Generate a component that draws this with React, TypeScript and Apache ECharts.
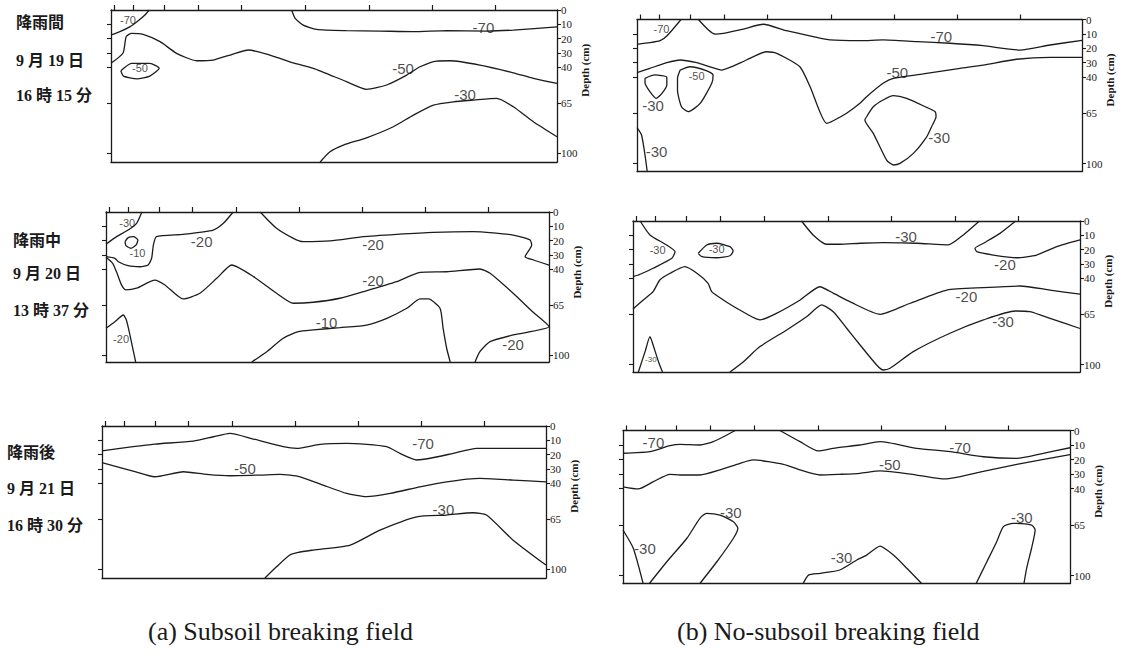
import React, { useEffect, useRef } from "react";
import * as echarts from "echarts";

// ---------- shared axis ticks ----------
const xTicks = [0.7, 5, 12, 19.5, 29.3, 43.6, 57.8, 72, 86.2];
const depthTicks = [0, 10, 20, 30, 40, 65, 100];
const leftDepthTicks = [10, 20, 30, 40, 65, 100];

// ---------- (a) 降雨間 ----------
const a1_m70L = [[0, 17.4], [2, 15.1], [4.3, 11.6], [6.1, 7.5], [7.6, 3.5], [8.6, 0]];
const a1_m50 = [[0, 37.2], [2.7, 30], [3.4, 18.6], [4.6, 16.3], [7.2, 17], [11, 22.1], [14.7, 30.2], [19.2, 35.4], [22.9, 34.9], [27.4, 30.7], [30.8, 27.9], [34.9, 30.7], [40.1, 36.1], [45.4, 40.7], [52.8, 50], [57.3, 55.3], [61.8, 52.3], [66.3, 45.4], [69.3, 39.6], [73, 35.6], [76, 35.4], [82.7, 38.4], [90.2, 43.8], [94.7, 47.7], [100, 51.2]];
const a1_m50loop = [[2.2, 42.4], [4.6, 37.2], [8.7, 37.2], [10.8, 40.7], [8.7, 46.1], [5.8, 48.1], [2.8, 46.1], [2.2, 42.4]];
const a1_m70R = [[40.5, 0], [41.3, 5.8], [43.1, 10.5], [46.1, 13.5], [52.8, 14.4], [60.3, 14.7], [67.8, 15.1], [75.3, 14.4], [84.2, 14.7], [90.2, 14], [100, 11.7]];
const a1_m30 = [[46.9, 106], [49.1, 98.9], [52.1, 94.2], [57.3, 89.1], [63.3, 81.4], [67.8, 73.3], [72.3, 66.3], [76.8, 64], [81.3, 62.8], [86.5, 61.6], [90.2, 67.5], [94.7, 77.9], [100, 88.4]];
const a1_labels = [["-70", 83.5, 11.9], ["-50", 65.5, 40.5], ["-30", 79.4, 58.6]];
const a1_smallLabels = [["-70", 3.8, 7], ["-50", 6.5, 40.3]];

// ---------- (b) 降雨間 ----------
const b1_m70L = [[0, 17.2], [2.9, 16.1], [5.2, 14.7], [6.7, 11.5], [9.9, 0]];
const b1_m70R = [[13.8, 0], [17.5, 10.1], [19.4, 9.6], [23.9, 6.6], [28.4, 3.3], [33.6, 7.8], [39.6, 11.9], [43.4, 14.2], [50.1, 14.7], [55.3, 14.2], [62.9, 15.4], [70.3, 16.5], [77.8, 18.2], [86.1, 21.2], [92.8, 17.7], [100, 14.5]];
const b1_m50 = [[0, 36.9], [2.9, 33.9], [6.7, 30], [9.7, 28.1], [13.4, 30], [16.4, 32.8], [19, 35.1], [21.6, 32.3], [24.6, 28.1], [29.1, 22.4], [31.4, 23.5], [36.6, 32.8], [38.9, 46.7], [42.6, 72.1], [44.1, 70.3], [47.1, 65.1], [50.1, 58.2], [51.6, 53.6], [55.3, 44.3], [57.6, 40.8], [64.3, 37.8], [72.6, 33.9], [77.8, 31.6], [85.3, 27.6], [92.8, 26.3], [100, 26.3]];
const b1_m30loopA = [[1.8, 40.8], [4, 38.5], [6.7, 40.1], [6.7, 45.5], [5.6, 51.3], [4.3, 54.7], [2.9, 50.1], [1.8, 43.9], [1.8, 40.8]];
const b1_m50loop = [[9.7, 35.1], [11.9, 32.8], [15.7, 35.6], [17.1, 38.5], [16.8, 44.3], [14.2, 58.2], [11.5, 64], [10, 60.6], [9.1, 49], [9.1, 40.8], [9.7, 35.1]];
const b1_m30edge = [[0, 75], [1, 80], [1.7, 92], [2.3, 105.5]];
const b1_m30loopB = [[51.6, 67.5], [53.1, 60.6], [55.3, 55.9], [57.6, 52.9], [60.6, 54.7], [65.1, 61], [67, 64], [67.2, 67.5], [66.2, 74.4], [65.1, 81.4], [62.1, 92.9], [59.1, 99.9], [57.6, 101], [56.1, 97.6], [53.1, 79], [51.2, 69.8], [51.6, 67.5]];
const b1_labels = [["-70", 68.4, 11.5], ["-50", 58.5, 36.5], ["-30", 67.9, 81.9], ["-30", 3.6, 59.4], ["-30", 4.4, 91.7]];
const b1_smallLabels = [["-70", 5.5, 6.8], ["-50", 13.4, 39.2]];

// ---------- (a) 降雨中 ----------
const a2_m30 = [[0, 22.5], [2.4, 17.2], [5, 12.6], [6.9, 7.9], [8.1, 0]];
const a2_m20a = [[0, 31.2], [2, 32.3], [2.8, 34.7], [5, 37.5], [7.7, 38.2], [9.5, 37], [10.3, 32.3], [10.7, 23], [11.4, 17.2], [17.4, 15.6], [24.2, 12.6], [26.5, 7.9], [28.7, 0]];
const a2_m10loop = [[4.3, 20.7], [5, 17.9], [6.2, 17.2], [7.2, 19.5], [6.8, 23], [5.6, 25.3], [4.5, 23.5], [4.3, 20.7]];
const a2_m20b = [[34.8, 0], [38.5, 11.4], [42.3, 18.4], [44.5, 20.7], [50.6, 20.2], [58.1, 17.2], [65.6, 15.6], [73.9, 14.2], [82.9, 13.7], [91.9, 16.1], [95.7, 19.5], [96.1, 23], [94.6, 31.2], [96.5, 33.5], [100, 37]];
const a2_m20c = [[0, 31.6], [1.5, 35.8], [2.5, 42.8], [3.5, 50.9], [4.5, 54.4], [6.9, 53.2], [11, 47.5], [13.3, 50.9], [17.4, 60.7], [21.2, 56.7], [25, 46.3], [28.4, 37], [33.3, 45.1], [38.5, 56.7], [42.3, 63.7], [46.8, 63], [52.8, 60.2], [58.1, 55.6], [65.6, 48.6], [70.9, 42.1], [76.9, 41.7], [84.4, 39.8], [86.7, 42.8], [91.9, 56.7], [96.3, 69.6], [100, 80], [91.9, 85.8], [86.7, 90.5], [84.4, 97.5], [83.3, 104.7]];
const a2_m10 = [[32.9, 104.7], [36.3, 97.5], [40, 88.1], [43.4, 83.5], [46.8, 82.3], [52.8, 80.7], [58.8, 78.9], [63.4, 74.2], [67.9, 67.2], [70.9, 60.7], [72.8, 60.7], [75.4, 67.2], [76.1, 81.2], [76.9, 95.1], [77.7, 104.7]];
const a2_m20d = [[0, 81.2], [2, 76.6], [3.9, 71.9], [4.6, 75.4], [5.4, 85.8], [6.2, 97.5], [6.7, 104.7]];
const a2_labels = [["-20", 21.6, 20.7], ["-20", 60.3, 23], ["-20", 60.3, 47.5], ["-10", 49.8, 76.8], ["-20", 91.9, 92.8]];
const a2_smallLabels = [["-30", 4.8, 7.7], ["-10", 7.1, 28.6], ["-20", 3.4, 88.6]];

// ---------- (b) 降雨中 ----------
const b2_m30a = [[1.6, 0], [3.8, 9.7], [7.5, 16.7], [9.4, 21.4], [8.7, 26], [4.5, 32.9], [1.6, 37.1], [0, 38.8]];
const b2_m30loop = [[14.6, 22.5], [16.5, 16.7], [18.7, 15.5], [21.7, 17.9], [22.4, 20.9], [21.7, 24.2], [18.7, 25.6], [15.4, 24.9], [14.6, 22.5]];
const b2_m30b = [[37.7, 0], [40.3, 9.7], [43.3, 16.2], [46.3, 16.2], [50.8, 15.5], [56, 15.1], [63.5, 15.5], [70.5, 16.7], [73.9, 9.7], [77.5, 0]];
const b2_m20a = [[85.6, 0], [82.1, 8.6], [78.4, 15.5], [76.5, 19], [76.9, 21.4], [80.6, 23.7], [85.8, 25.6], [90.3, 23.7], [94.8, 17.9], [100, 13.2]];
const b2_m20b = [[0, 61.3], [2.3, 55], [4.5, 49.2], [6, 41.1], [8.3, 36.4], [11.6, 31.8], [14.3, 36.4], [16.8, 43.4], [17.6, 49.2], [20.2, 55], [23.9, 62], [28.4, 68.9], [32.1, 64.3], [37.4, 55], [41.8, 45.8], [44.8, 50.3], [48.5, 56.2], [55.3, 65], [62, 57.3], [70.2, 48.1], [78.4, 46.4], [86.6, 45.3], [93.3, 48.1], [100, 51]];
const b2_m30c = [[21.7, 105.2], [24.7, 98], [28.4, 87.5], [34.4, 75.9], [38.9, 66.6], [42.2, 58.5], [44.8, 63.2], [47.8, 74.7], [50.8, 86.4], [54.5, 100.3], [56, 103.8], [57.5, 102.6], [62.7, 91], [70.9, 78.2], [78.4, 68.9], [85.5, 62.7], [88.8, 63.2], [93.3, 67.8], [100, 74.9]];
const b2_m30d = [[1.2, 105.2], [2.7, 91], [3.8, 80.6], [4.5, 86.4], [5.7, 98], [6.6, 105.2]];
const b2_labels = [["-30", 61.1, 11.1], ["-20", 83.2, 30.6], ["-20", 74.6, 52.9], ["-30", 82.8, 70]];
const b2_smallLabels = [["-30", 5.5, 20.2], ["-30", 18.7, 19.5]];
const b2_tinyLabels = [["-30", 4, 96.4]];

// ---------- (a) 降雨後 ----------
const a3_m70 = [[0, 17.4], [7, 14.4], [11.9, 12.6], [20.6, 10.5], [25.1, 7.5], [28.8, 5.1], [34.1, 9.1], [40.8, 14.4], [43.9, 15.6], [49.1, 12.8], [55.1, 12.1], [64.1, 14.4], [67.1, 19.1], [70.9, 23.7], [73.9, 22.5], [79.1, 19.1], [84.4, 15.6], [92.6, 15.6], [100, 15.6]];
const a3_m50 = [[0, 25.6], [7, 31.4], [11.9, 35.4], [18.3, 31.9], [23.6, 33.7], [28.8, 34.7], [35.6, 34.2], [40.1, 33.7], [44.6, 35.4], [49.8, 41.2], [55.1, 47], [59.6, 49.3], [64.9, 47], [71.6, 42.4], [77.6, 38.9], [85.1, 36.5], [92.6, 37.7], [100, 38.9]];
const a3_m30 = [[36.7, 106], [39.3, 98.2], [42.3, 90], [44.2, 88.1], [47.6, 86.5], [55.9, 83], [62.6, 72.6], [70.9, 63.3], [77.6, 62.1], [83.6, 60.5], [86.6, 62.1], [92.6, 79.6], [100, 97]];
const a3_labels = [["-70", 72.3, 11.9], ["-50", 32.2, 29.7], ["-30", 76.9, 58.3]];

// ---------- (b) 降雨後 ----------
const b3_m70a = [[0, 15.7], [6, 14.6], [10.5, 10.5], [12.8, 9.5], [17.2, 10], [20.2, 7.7], [25.1, 0]];
const b3_m70b = [[35.1, 0], [39.6, 7.7], [43.7, 14.1], [47, 12.3], [53, 10], [57.5, 7.7], [65.7, 12.3], [73.2, 14.6], [80.6, 18.1], [88.1, 19.2], [94, 15.7], [100, 11.9]];
const b3_m50 = [[0, 38.8], [3.4, 40.3], [6.8, 35.3], [10.5, 30.2], [12.8, 30.7], [17.2, 30.7], [21.7, 27.2], [26.2, 22.6], [29.1, 20.3], [35.9, 23.3], [39.6, 27.2], [44.1, 30.7], [48.5, 30.2], [53, 29.5], [57.5, 27.9], [65.7, 30.7], [72, 33.4], [80.6, 28.2], [88.1, 23.4], [100, 16.6]];
const b3_m30edge = [[0, 68.6], [2.3, 81.2], [4.5, 105.5]];
const b3_m30loopA = [[5.9, 105.5], [9.8, 90.5], [14.3, 74.3], [17.2, 60.6], [18.7, 57.1], [21.7, 58.3], [24.7, 62.9], [25.7, 67.4], [24.7, 74.3], [21, 90.5], [17.2, 105.5]];
const b3_m30hump = [[40.3, 105.5], [41.5, 99.7], [44.1, 98.5], [48.5, 96.2], [52.3, 89.3], [54.5, 85.9], [57.5, 79.7], [60.5, 85.9], [63.5, 95], [66.8, 105.5]];
const b3_m30loopB = [[79, 105.5], [81.4, 90.5], [83.6, 76.7], [85.1, 66.3], [87.3, 64], [91.4, 65.2], [92.2, 68.6], [91.4, 81.2], [90.3, 95], [89.7, 105.5]];
const b3_labels = [["-70", 6.8, 8.3], ["-70", 75.4, 11.4], ["-50", 59.7, 23.4], ["-30", 4.9, 81.4], ["-30", 24.1, 56.4], ["-30", 48.9, 87.9], ["-30", 89.2, 59.7]];

// ---------- side texts ----------
const rowTexts = [
  ["降雨間", "9 月 19 日", "16 時 15 分"],
  ["降雨中", "9 月 20 日", "13 時 37 分"],
  ["降雨後", "9 月 21 日", "16 時 30 分"],
];
const captions = ["(a) Subsoil breaking field", "(b) No-subsoil breaking field"];

// ---------- layout ----------
const panels = [
  { left: 111, top: 10, width: 446, height: 152, ymax: 106, lines: [a1_m70L, a1_m50, a1_m50loop, a1_m70R, a1_m30], labels: a1_labels, small: a1_smallLabels, tiny: [] },
  { left: 637, top: 19.5, width: 445, height: 152, ymax: 105.5, lines: [b1_m70L, b1_m70R, b1_m50, b1_m30loopA, b1_m50loop, b1_m30edge, b1_m30loopB], labels: b1_labels, small: b1_smallLabels, tiny: [] },
  { left: 106, top: 212, width: 443, height: 150, ymax: 104.7, lines: [a2_m30, a2_m20a, a2_m10loop, a2_m20b, a2_m20c, a2_m10, a2_m20d], labels: a2_labels, small: a2_smallLabels, tiny: [] },
  { left: 633, top: 221, width: 447, height: 151, ymax: 105.2, lines: [b2_m30a, b2_m30loop, b2_m30b, b2_m20a, b2_m20b, b2_m30c, b2_m30d], labels: b2_labels, small: b2_smallLabels, tiny: b2_tinyLabels },
  { left: 102, top: 426, width: 444, height: 152, ymax: 106, lines: [a3_m70, a3_m50, a3_m30], labels: a3_labels, small: [], tiny: [] },
  { left: 623, top: 430.5, width: 447, height: 153, ymax: 105.5, lines: [b3_m70a, b3_m70b, b3_m50, b3_m30edge, b3_m30loopA, b3_m30hump, b3_m30loopB], labels: b3_labels, small: [], tiny: [] },
];
const rowTextLayout = [
  { x: 16, ys: [22.5, 60, 95.5] },
  { x: 13, ys: [240, 273.5, 310] },
  { x: 7, ys: [452.5, 488.5, 525] },
];

const INK = "#1a1a1a";
const SERIF = "'Liberation Serif', 'DejaVu Serif', serif";
const CJK = "'Liberation Serif', 'Noto Sans CJK JP', serif";
const SANS = "'Liberation Sans', Arial, sans-serif";

function buildOption() {
  const grid: any[] = [];
  const xAxis: any[] = [];
  const yAxis: any[] = [];
  const series: any[] = [];
  const graphic: any[] = [];
  const axisLine = { show: true, onZero: false, lineStyle: { color: INK, width: 1.3 } };

  panels.forEach((p, i) => {
    grid.push({ left: p.left, top: p.top, width: p.width, height: p.height });
    xAxis.push({
      type: "value", gridIndex: i, position: "top", min: 0, max: 100,
      axisLine, axisTick: { show: true, length: 5, customValues: xTicks, lineStyle: { color: INK, width: 1.2 } },
      axisLabel: { show: false }, splitLine: { show: false },
    });
    xAxis.push({
      type: "value", gridIndex: i, position: "bottom", min: 0, max: 100,
      axisLine, axisTick: { show: false }, axisLabel: { show: false }, splitLine: { show: false },
    });
    yAxis.push({
      type: "value", gridIndex: i, position: "right", inverse: true, min: 0, max: p.ymax,
      axisLine, axisTick: { show: true, length: 4, customValues: depthTicks, lineStyle: { color: INK, width: 1.1 } },
      axisLabel: { show: true, customValues: depthTicks, margin: 4, fontSize: 11, fontFamily: SERIF, color: INK },
      splitLine: { show: false },
    });
    yAxis.push({
      type: "value", gridIndex: i, position: "left", inverse: true, min: 0, max: p.ymax,
      axisLine, axisTick: { show: true, length: 4, customValues: leftDepthTicks, lineStyle: { color: INK, width: 1.1 } },
      axisLabel: { show: false }, splitLine: { show: false },
    });
    p.lines.forEach((ln) => {
      series.push({
        type: "line", xAxisIndex: 2 * i, yAxisIndex: 2 * i, data: ln, symbol: "none", showSymbol: false,
        smooth: 0.2, silent: true, lineStyle: { color: "#1c1c1c", width: 1.3 },
      });
    });
    const addLabels = (arr: any[], size: number) => {
      if (!arr.length) return;
      series.push({
        type: "scatter", xAxisIndex: 2 * i, yAxisIndex: 2 * i, symbolSize: 1, silent: true,
        itemStyle: { color: "rgba(0,0,0,0)" },
        data: arr.map((l) => [l[1], l[2], l[0]]),
        label: { show: true, position: "inside", formatter: (q: any) => q.data[2], fontSize: size, fontFamily: SANS, color: "#1c1c1c" },
      });
    };
    addLabels(p.labels, 15);
    addLabels(p.small, 11);
    addLabels(p.tiny, 8);
    graphic.push({
      type: "text", x: p.left + p.width + 28, y: p.top + 42 * (p.height / p.ymax), rotation: Math.PI / 2,
      style: { text: "Depth (cm)", font: `bold 11px ${SERIF}`, fill: INK, align: "center", verticalAlign: "middle" },
    });
  });

  rowTexts.forEach((rows, r) => {
    rows.forEach((t, k) => {
      graphic.push({
        type: "text", x: rowTextLayout[r].x, y: rowTextLayout[r].ys[k],
        style: { text: t, font: `bold 16px ${CJK}`, fill: INK, align: "left", verticalAlign: "middle" },
      });
    });
  });
  graphic.push({ type: "text", x: 148, y: 631, style: { text: captions[0], font: `26px ${SERIF}`, fill: INK, align: "left", verticalAlign: "middle" } });
  graphic.push({ type: "text", x: 677, y: 631, style: { text: captions[1], font: `26px ${SERIF}`, fill: INK, align: "left", verticalAlign: "middle" } });

  return { animation: false, backgroundColor: "#fff", grid, xAxis, yAxis, series, graphic };
}

export default function App() {
  const ref = useRef<HTMLDivElement>(null);
  useEffect(() => {
    if (!ref.current) return;
    const chart = echarts.init(ref.current, null, { renderer: "svg" });
    chart.setOption(buildOption());
    return () => chart.dispose();
  }, []);
  return <div ref={ref} style={{ position: "absolute", left: 0, top: 0, width: 1122, height: 657, background: "#fff" }} />;
}
